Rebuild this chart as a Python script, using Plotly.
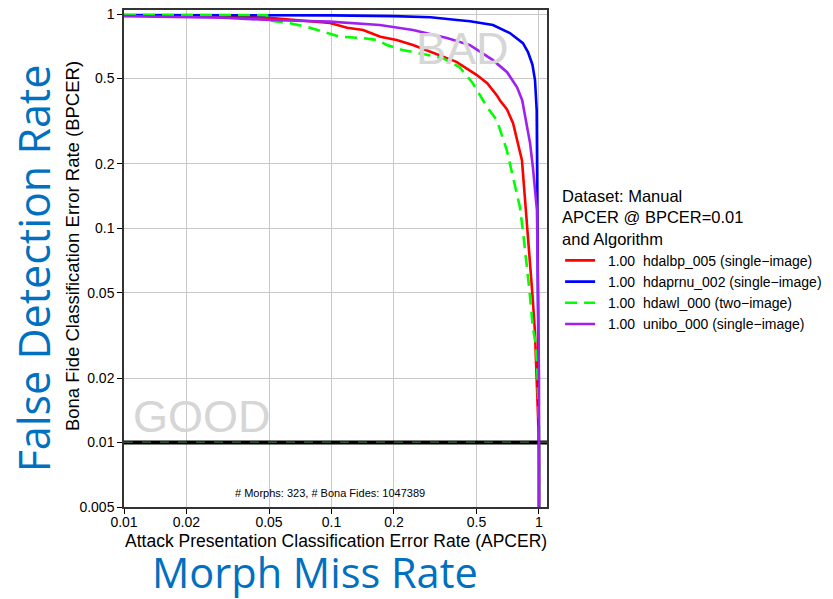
import plotly.graph_objects as go
import math

# ---- data (APCER on x, BPCER on y) ----
red_x = [0.01, 0.03, 0.05, 0.068, 0.0983, 0.119, 0.142, 0.172, 0.206, 0.247, 0.298, 0.40, 0.50, 0.563,
         0.627, 0.649, 0.70, 0.75, 0.828, 0.859, 0.90, 0.93, 0.956, 0.978, 0.99, 1.0, 1.0]
red_y = [0.985, 0.975, 0.96, 0.937, 0.908, 0.863, 0.842, 0.783, 0.756, 0.716, 0.667, 0.598, 0.52, 0.475,
         0.417, 0.395, 0.36, 0.309, 0.207, 0.134, 0.079, 0.049, 0.033, 0.0194, 0.014, 0.01, 0.001]

blue_x = [0.01, 0.05, 0.1, 0.2, 0.3, 0.403, 0.465, 0.6, 0.724, 0.837, 0.885, 0.93, 0.957, 0.975,
          0.98, 0.985, 0.99, 0.995, 1.0, 1.0]
blue_y = [0.99, 0.988, 0.985, 0.978, 0.965, 0.937, 0.925, 0.888, 0.815, 0.731, 0.664, 0.58, 0.49, 0.355,
          0.2, 0.1, 0.045, 0.02, 0.008, 0.001]

green_x = [0.01, 0.03, 0.0489, 0.049, 0.0632, 0.0787, 0.091, 0.110, 0.142, 0.166, 0.185, 0.22, 0.276,
           0.344, 0.414, 0.48, 0.563, 0.627, 0.70, 0.75, 0.81, 0.84, 0.87, 0.90, 0.935, 0.965, 0.985,
           1.0, 1.0]
green_y = [0.99, 0.99, 0.99, 0.937, 0.905, 0.863, 0.827, 0.783, 0.772, 0.756, 0.716, 0.679, 0.65,
           0.622, 0.565, 0.475, 0.367, 0.319, 0.231, 0.172, 0.125, 0.094, 0.070, 0.051, 0.034, 0.029,
           0.02, 0.012, 0.001]

purple_x = [0.01, 0.03, 0.0506, 0.0983, 0.171, 0.247, 0.36, 0.465, 0.600, 0.702, 0.784, 0.83, 0.906,
            0.935, 0.978, 0.99, 1.0, 1.0]
purple_y = [0.978, 0.96, 0.937, 0.921, 0.888, 0.842, 0.772, 0.716, 0.609, 0.535, 0.455, 0.396, 0.249,
            0.192, 0.121, 0.046, 0.02, 0.001]

series_names = ["\u00a0\u00a01.00\u00a0 hdalbp_005 (single\u2212image)",
                "\u00a0\u00a01.00\u00a0 hdaprnu_002 (single\u2212image)",
                "\u00a0\u00a01.00\u00a0 hdawl_000 (two\u2212image)",
                "\u00a0\u00a01.00\u00a0 unibo_000 (single\u2212image)"]
series_colors = ["#ff0000", "#0000ff", "#00ff00", "#a020f0"]

threshold_bpcer = 0.01
x_range_vals = [0.01, 1.093]
y_range_vals = [0.005, 1.044]

x_tickvals = [0.01, 0.02, 0.05, 0.1, 0.2, 0.5, 1]
x_ticktext = ["0.01", "0.02", "0.05", "0.1", "0.2", "0.5", "1"]
y_tickvals = [0.005, 0.01, 0.02, 0.05, 0.1, 0.2, 0.5, 1]
y_ticktext = ["0.005", "0.01", "0.02", "0.05", "0.1", "0.2", "0.5", "1"]

fig = go.Figure()

# threshold line at BPCER = 0.01
fig.add_trace(go.Scatter(x=x_range_vals, y=[threshold_bpcer, threshold_bpcer], mode="lines",
                         line=dict(color="black", width=4), showlegend=False, hoverinfo="skip"))
fig.add_trace(go.Scatter(x=x_range_vals, y=[threshold_bpcer * 1.004, threshold_bpcer * 1.004], mode="lines",
                         line=dict(color="#3c6a3c", width=1.2, dash="dash"), showlegend=False,
                         hoverinfo="skip"))

data = [(red_x, red_y, "solid"), (blue_x, blue_y, "solid"), (green_x, green_y, "12px,7px"),
        (purple_x, purple_y, "solid")]
for (xs, ys, dash), name, col in zip(data, series_names, series_colors):
    fig.add_trace(go.Scatter(x=xs, y=ys, mode="lines", name=name,
                             line=dict(color=col, width=2.6, dash=dash)))

FONT = "Liberation Sans, Arial, Helvetica, sans-serif"
axis_common = dict(type="log", showgrid=True, gridcolor="#c8c8c8", gridwidth=1,
                   showline=True, linecolor="#333333", linewidth=1.5, mirror=True,
                   ticks="outside", ticklen=5, tickcolor="black", tickwidth=1.2,
                   tickfont=dict(family=FONT, size=14, color="black"), zeroline=False)

fig.update_layout(
    width=833, height=599,
    margin=dict(l=124, r=286, t=10, b=92, autoexpand=False),
    paper_bgcolor="white", plot_bgcolor="white",
    font=dict(family=FONT, color="black"),
    xaxis=dict(range=[math.log10(x_range_vals[0]), math.log10(x_range_vals[1])],
               tickvals=x_tickvals, ticktext=x_ticktext, ticklabelstandoff=-4, **axis_common),
    yaxis=dict(range=[math.log10(y_range_vals[0]), math.log10(y_range_vals[1])],
               tickvals=y_tickvals, ticktext=y_ticktext, **axis_common),
    legend=dict(x=1.031, y=0.657, xanchor="left", yanchor="top",
                bgcolor="rgba(0,0,0,0)", font=dict(family=FONT, size=14, color="black"),
                title=dict(text="Dataset: Manual<br>APCER @ BPCER=0.01<br>and Algorithm",
                           font=dict(family=FONT, size=16.5, color="black"), side="top"),
                tracegroupgap=0, itemwidth=30),
    showlegend=True,
)

ann = [
    dict(text="Attack Presentation Classification Error Rate (APCER)", x=0.5, y=-0.068,
         font=dict(size=17.5, family=FONT, color="black")),
    dict(text="Bona Fide Classification Error Rate (BPCER)", x=-0.123, y=0.525, textangle=-90,
         font=dict(size=18.5, family=FONT, color="black")),
    dict(text="False Detection Rate", x=-0.213, y=0.48, textangle=-90,
         font=dict(size=43, family="Open Sans, sans-serif", color="#0070C0")),
    dict(text="Morph Miss Rate", x=0.4515, y=-0.131,
         font=dict(size=41.5, family="Open Sans, sans-serif", color="#0070C0")),
    dict(text="BAD", x=0.80, y=0.923, font=dict(size=45, family=FONT, color="#d6d6d6")),
    dict(text="GOOD", x=0.184, y=0.183, font=dict(size=45, family=FONT, color="#d6d6d6")),
    dict(text="# Morphs: 323, # Bona Fides: 1047389", x=0.487, y=0.028,
         font=dict(size=11, family=FONT, color="black")),
]
for a in ann:
    fig.add_annotation(xref="paper", yref="paper", showarrow=False, xanchor="center",
                       yanchor="middle", **a)

fig.write_html("out.html")
